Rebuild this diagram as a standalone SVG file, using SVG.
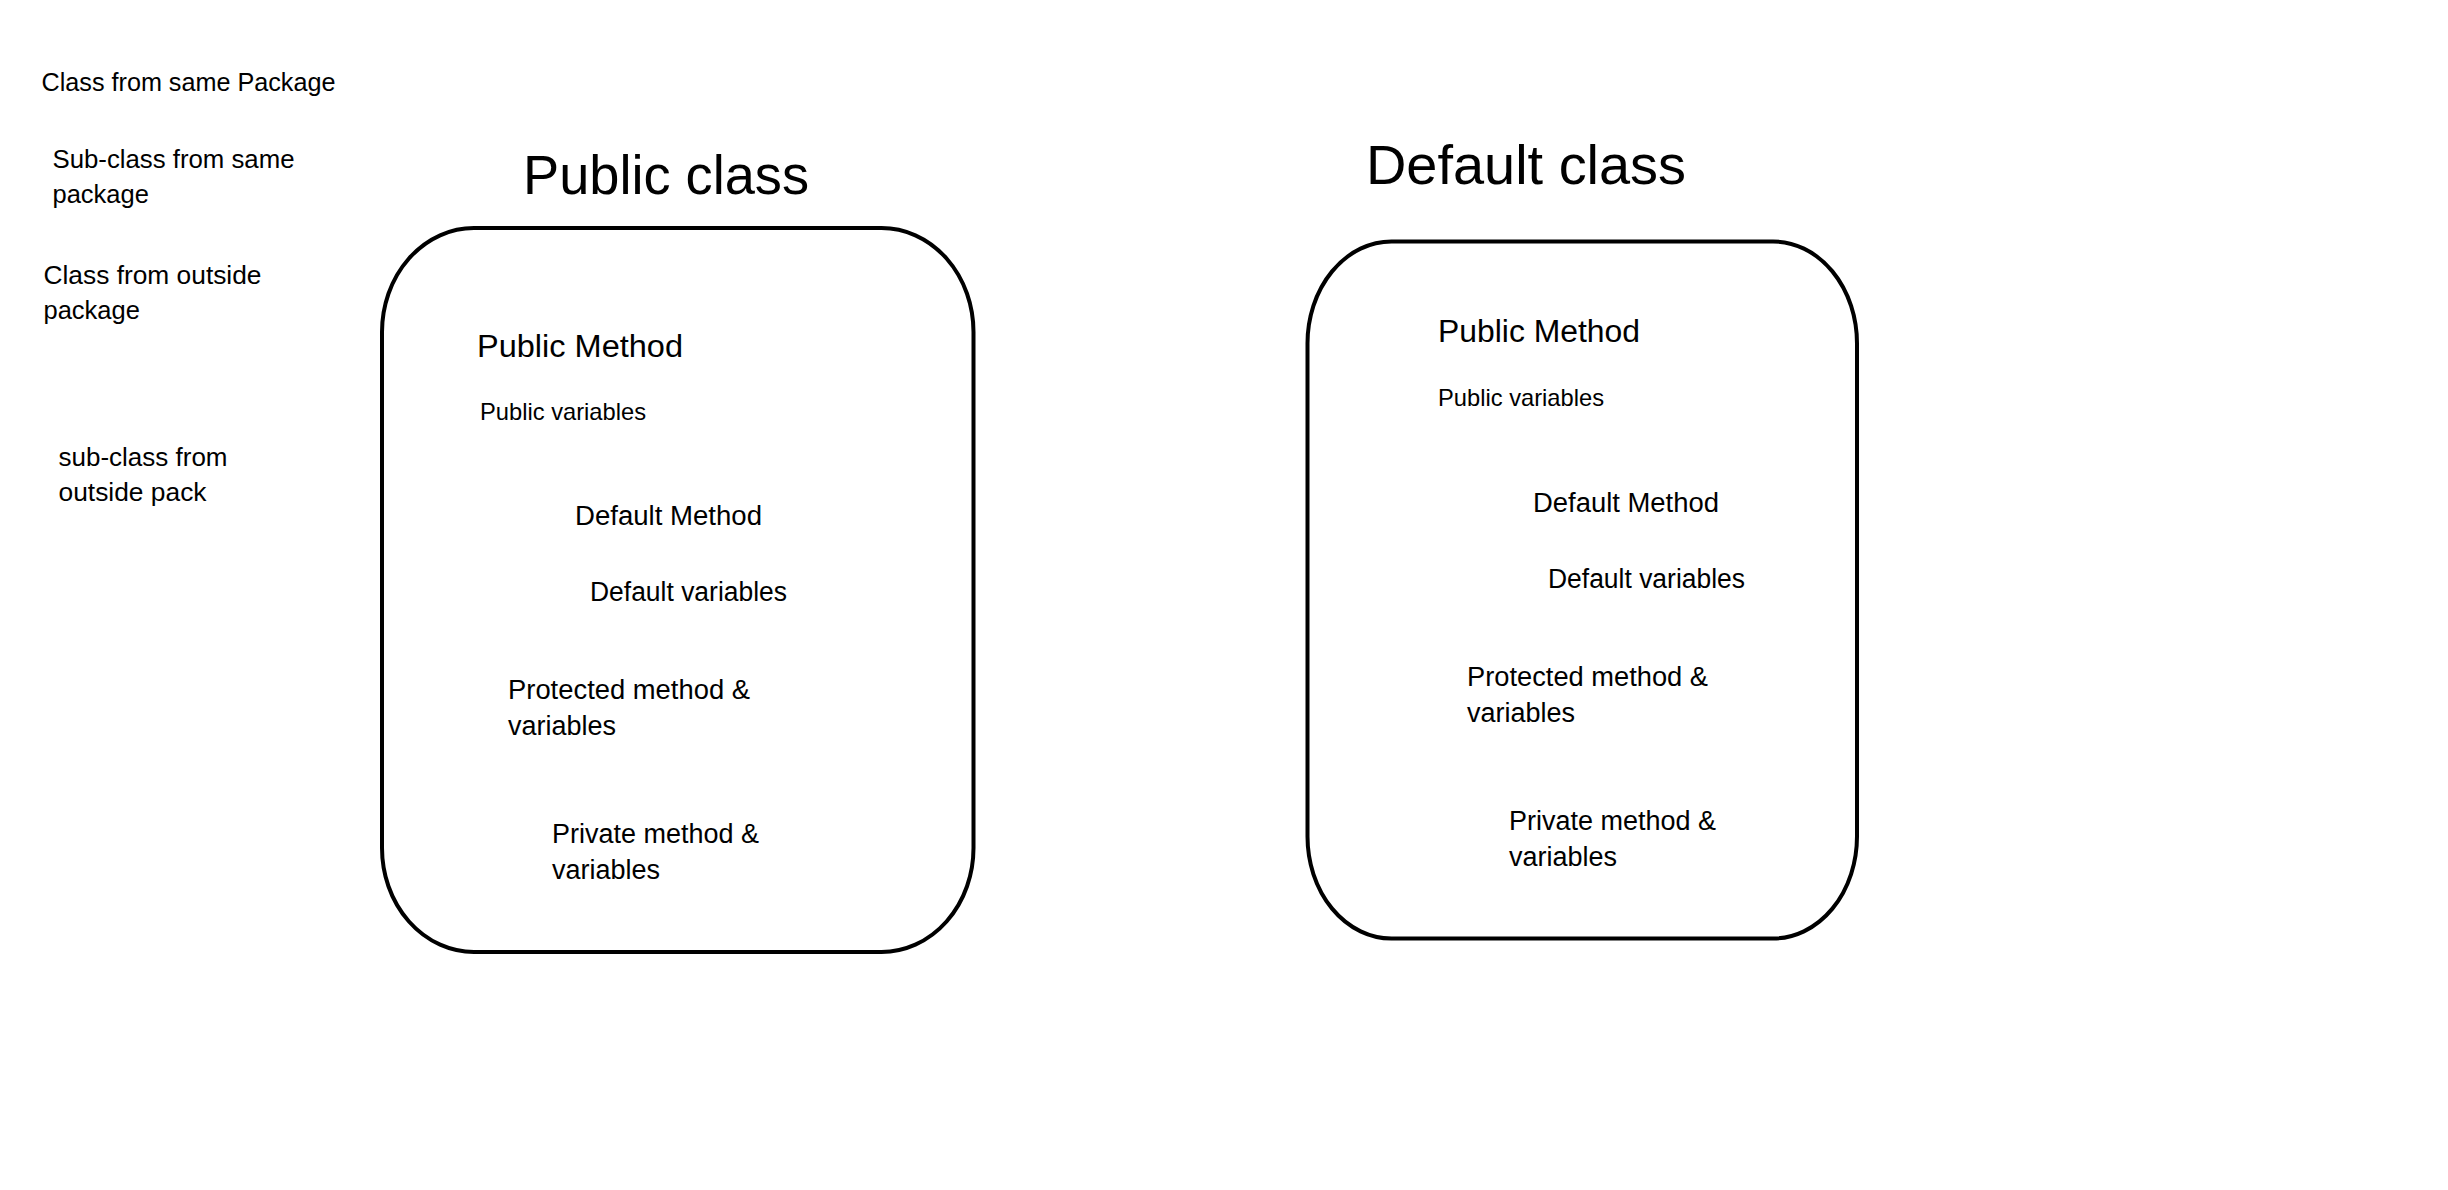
<svg xmlns="http://www.w3.org/2000/svg" width="2448" height="1190" viewBox="0 0 2448 1190">
<style>
text{font-family:"Liberation Sans",Arial,sans-serif;fill:#000}
.lbl{font-size:25.5px}
.title{font-size:55px}
.pm{font-size:31px}
.pv{font-size:24px}
.in{font-size:27px}
.box{fill:none;stroke:#000;stroke-width:4}
</style>
<rect x="0" y="0" width="2448" height="1190" fill="#fff"/>
<g id="legend">
<g id="lbl-same-class"><text class="lbl" x="41.5" y="90.5" textLength="294" lengthAdjust="spacingAndGlyphs">Class from same Package</text></g>
<g id="lbl-same-sub"><text class="lbl" x="52.5" y="168" textLength="242" lengthAdjust="spacingAndGlyphs">Sub-class from same</text><text class="lbl" x="52.5" y="203">package</text></g>
<g id="lbl-out-class"><text class="lbl" x="43.5" y="284" textLength="218" lengthAdjust="spacingAndGlyphs">Class from outside</text><text class="lbl" x="43.5" y="319">package</text></g>
<g id="lbl-out-sub"><text class="lbl" x="58.5" y="466" textLength="169" lengthAdjust="spacingAndGlyphs">sub-class from</text><text class="lbl" x="58.5" y="501" textLength="148" lengthAdjust="spacingAndGlyphs">outside pack</text></g>
</g>
<g id="public-class">
<text class="title" x="523" y="193.5" textLength="286" lengthAdjust="spacingAndGlyphs">Public class</text>
<rect class="box" x="382" y="228" width="591.5" height="724" rx="92" ry="104"/>
<text class="pm" x="477" y="357" textLength="206" lengthAdjust="spacingAndGlyphs">Public Method</text>
<text class="pv" x="480" y="420" textLength="166" lengthAdjust="spacingAndGlyphs">Public variables</text>
<text class="in" x="575" y="525" textLength="187" lengthAdjust="spacingAndGlyphs">Default Method</text>
<text class="in" x="590" y="601" textLength="197" lengthAdjust="spacingAndGlyphs">Default variables</text>
<text class="in" x="508" y="699" textLength="242" lengthAdjust="spacingAndGlyphs">Protected method &amp;</text>
<text class="in" x="508" y="735">variables</text>
<text class="in" x="552" y="843" textLength="207" lengthAdjust="spacingAndGlyphs">Private method &amp;</text>
<text class="in" x="552" y="879">variables</text>
</g>
<g id="default-class">
<text class="title" x="1366" y="183.5" textLength="320" lengthAdjust="spacingAndGlyphs">Default class</text>
<rect class="box" x="1307.5" y="241.5" width="549.5" height="697" rx="84" ry="102"/>
<text class="pm" x="1438" y="342" textLength="202" lengthAdjust="spacingAndGlyphs">Public Method</text>
<text class="pv" x="1438" y="406" textLength="166" lengthAdjust="spacingAndGlyphs">Public variables</text>
<text class="in" x="1533" y="512" textLength="186" lengthAdjust="spacingAndGlyphs">Default Method</text>
<text class="in" x="1548" y="588" textLength="197" lengthAdjust="spacingAndGlyphs">Default variables</text>
<text class="in" x="1467" y="686" textLength="241" lengthAdjust="spacingAndGlyphs">Protected method &amp;</text>
<text class="in" x="1467" y="722">variables</text>
<text class="in" x="1509" y="830" textLength="207" lengthAdjust="spacingAndGlyphs">Private method &amp;</text>
<text class="in" x="1509" y="866">variables</text>
</g>
<g id="connectors"/>
</svg>
